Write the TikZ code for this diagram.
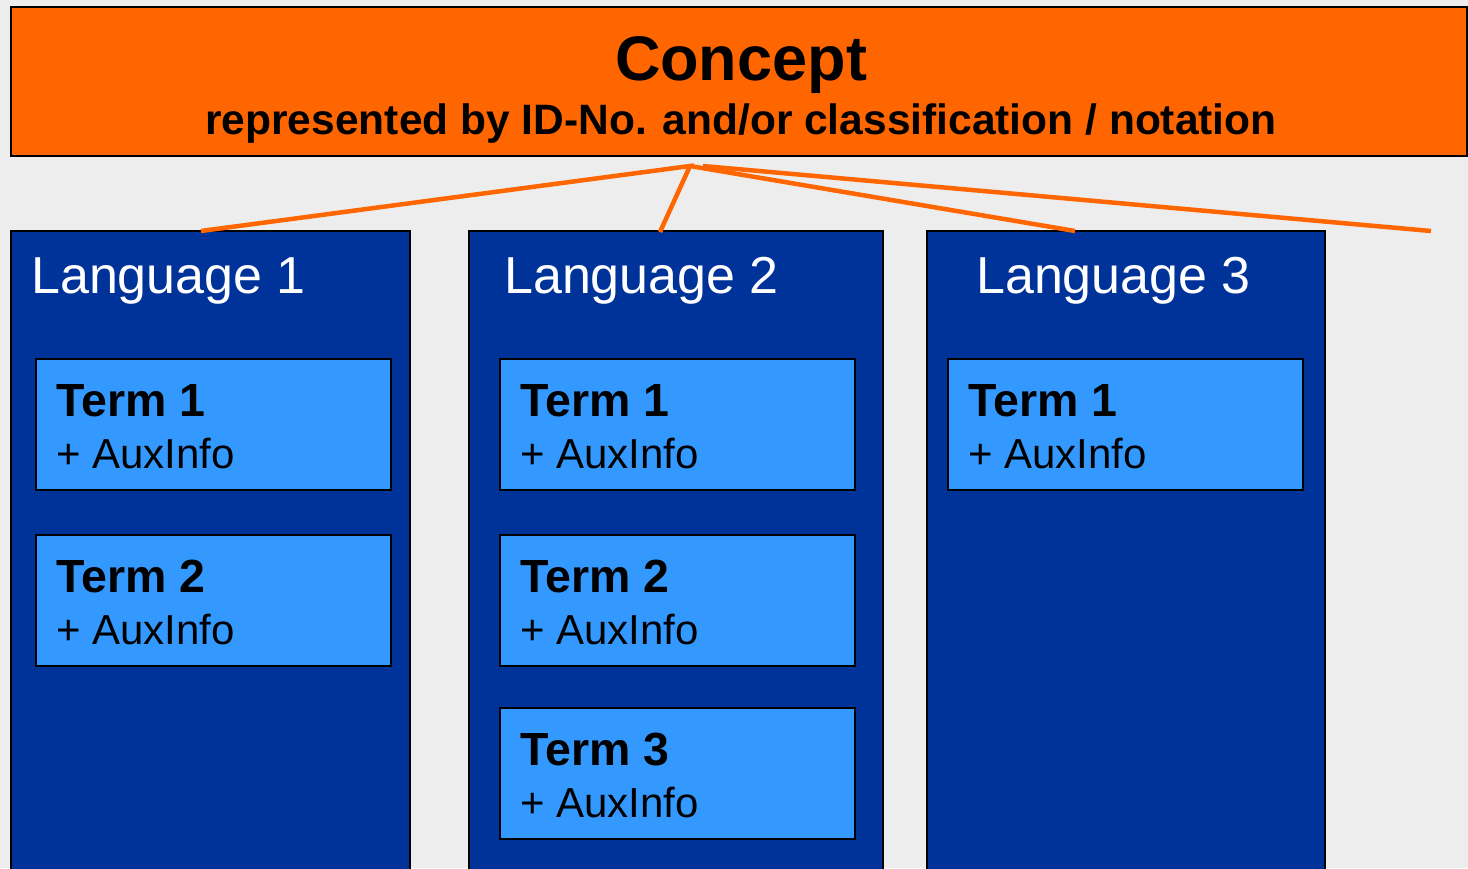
\documentclass[tikz,border=0pt]{standalone}
\usepackage{fontspec}
\setmainfont{Liberation Sans}
\usetikzlibrary{calc}
\definecolor{pagebg}{HTML}{EDEDED}
\definecolor{conceptorange}{HTML}{FF6600}
\definecolor{langblue}{HTML}{003399}
\definecolor{termblue}{HTML}{3399FF}
\begin{document}
\begin{tikzpicture}[x=1pt,y=-1pt,
  box/.style={draw=black,line width=2pt,inner sep=0pt,outer sep=0pt,anchor=north west},
  conceptbox/.style={box,fill=conceptorange},
  langbox/.style={box,fill=langblue,minimum height=660pt},
  termbox/.style={box,fill=termblue,minimum width=355pt,minimum height=131pt},
  langlabel/.style={anchor=base west,inner sep=0pt,text=white,font=\fontsize{52}{60}\selectfont},
  termlabel/.style={anchor=base west,inner sep=0pt,font=\bfseries\fontsize{46.5}{52}\selectfont},
  auxlabel/.style={anchor=base west,inner sep=0pt,font=\fontsize{42}{50}\selectfont},
  link/.style={draw=conceptorange,line width=4.5pt}]
\useasboundingbox (0,0) rectangle (1468,868);
\fill[pagebg] (0,0) rectangle (1468,868);
\clip (0,0) rectangle (1468,868);

% concept header
\node[conceptbox,minimum width=1456pt,minimum height=149pt] (concept) at (11,7) {};
\node[anchor=base,inner sep=0pt,font=\bfseries\fontsize{63}{70}\selectfont] (ctitle) at (741,80) {Concept};
\node[anchor=base,inner sep=0pt,font=\bfseries\fontsize{42.5}{50}\selectfont] (csub) at (741,134)
  {represented by ID-No. and/or classification / notation};

% language columns
\node[langbox,minimum width=399pt] (lang1) at (11,231) {};
\node[langbox,minimum width=414pt] (lang2) at (469,231) {};
\node[langbox,minimum width=398pt] (lang3) at (927,231) {};
\node[langlabel] (l1) at (31,293) {Language 1};
\node[langlabel] (l2) at (504,293) {Language 2};
\node[langlabel] (l3) at (976,293) {Language 3};

% term boxes
\foreach \name/\x/\y/\n in {t11/36/359/1, t12/36/535/2,
                            t21/500/359/1, t22/500/535/2, t23/500/708/3,
                            t31/948/359/1} {
  \node[termbox] (\name) at (\x,\y) {};
  \node[termlabel] (\name-term) at ($(\x,\y)+(20,57)$) {Term \n};
  \node[auxlabel] (\name-aux) at ($(\x,\y)+(20,109)$) {+ AuxInfo};
}

% connectors from the concept to the languages
\coordinate (hub) at (690,166);
\coordinate (hubb) at (703,166);
\coordinate (e1) at (201,231);
\coordinate (e2) at (660,232);
\coordinate (e3) at (1075,231);
\coordinate (e4) at (1431,231);
\draw[link] (e1) -- (hub) -- (e2);
\draw[link] (hub) -- (e3);
\draw[link] (hubb) -- (e4);
\end{tikzpicture}
\end{document}
